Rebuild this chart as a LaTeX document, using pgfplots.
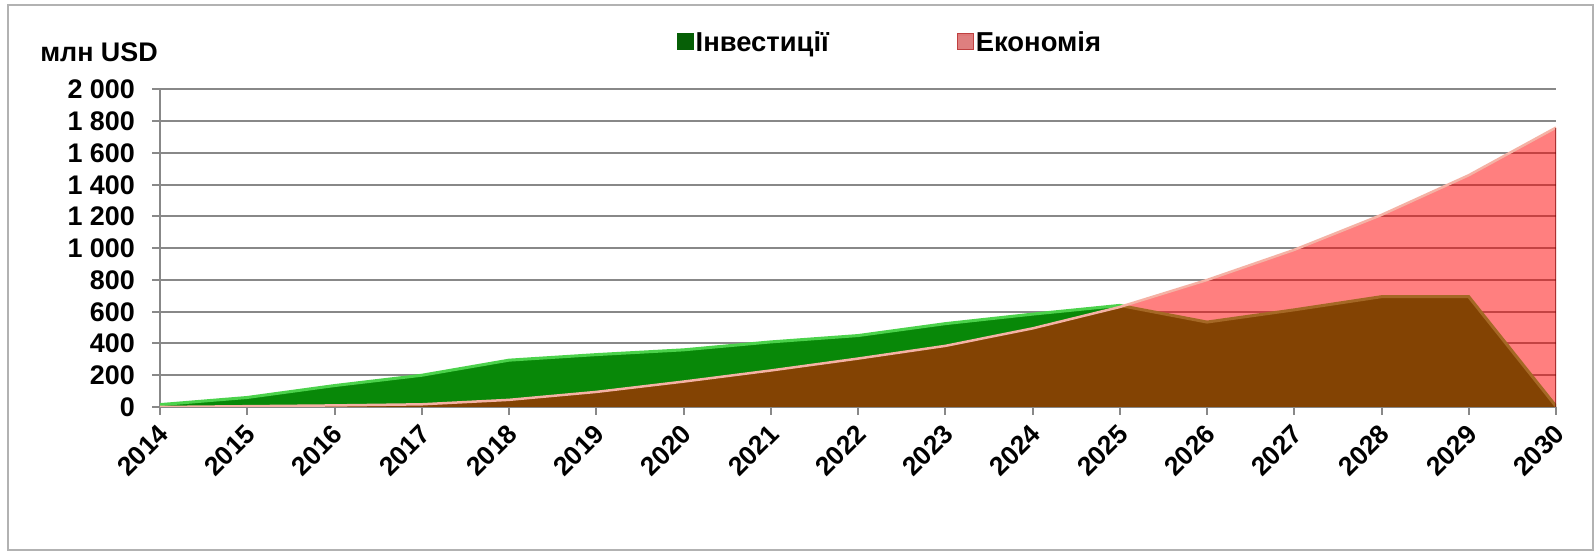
\documentclass[border=0pt]{standalone}
\usepackage{fontspec}
\setmainfont{Liberation Sans}
\usepackage{pgfplots}
\usepackage{pgfplotstable}
\pgfplotsset{compat=1.18}
\definecolor{invgreen}{RGB}{8,136,8}
\definecolor{invlight}{RGB}{75,210,75}
\definecolor{ecored}{RGB}{255,0,0}
\definecolor{ecoline}{RGB}{245,178,165}
\definecolor{gridgray}{RGB}{136,136,136}
\definecolor{framegray}{RGB}{178,178,178}

\pgfplotstableread{
year inv eco
2014 15 0
2015 60 5
2016 135 10
2017 200 17
2018 295 45
2019 330 95
2020 360 160
2021 410 230
2022 450 305
2023 525 385
2024 585 495
2025 640 630
2026 535 800
2027 612 990
2028 695 1210
2029 695 1460
2030 5 1760
}\datatable

\begin{document}
\begin{tikzpicture}
\useasboundingbox (0,0) rectangle (1595bp,556bp);
\fill[white] (0,0) rectangle (1595bp,556bp);
\draw[framegray, line width=2bp] (8bp,6bp) rectangle (1593bp,551bp);
\begin{axis}[
  at={(160bp,149bp)}, anchor=south west,
  scale only axis, width=1396bp, height=317.5bp,
  xmin=2014, xmax=2030, ymin=0, ymax=2000,
  axis lines*=left,
  axis line style={gridgray, line width=2.5bp},
  xtick={2014,2015,2016,2017,2018,2019,2020,2021,2022,2023,2024,2025,2026,2027,2028,2029,2030},
  xticklabels={2014,2015,2016,2017,2018,2019,2020,2021,2022,2023,2024,2025,2026,2027,2028,2029,2030},
  ytick={0,200,400,600,800,1000,1200,1400,1600,1800,2000},
  yticklabels={0,200,400,600,800,1 000,1 200,1 400,1 600,1 800,2 000},
  tick align=outside,
  major tick length=8bp,
  tick style={gridgray, line width=2bp},
  ymajorgrids,
  grid style={gridgray, line width=2bp},
  yticklabel style={font=\fontsize{27}{31}\selectfont\bfseries},
  xticklabel shift=13bp,
  xticklabel style={font=\fontsize{26.5}{30}\selectfont\bfseries, xshift=5bp, rotate=45, anchor=east, inner sep=2bp},
  yticklabel style={anchor=east, inner sep=0pt, xshift=-17bp},
  legend style={at={(0.370,1.15)}, anchor=west, draw=none, fill=none,
    legend columns=2, font=\fontsize{27.5}{31}\selectfont\bfseries,
    /tikz/every even column/.append style={column sep=126bp},
    inner sep=0pt},
  legend cell align=left,
]
\addplot[fill=invgreen, draw=none, area legend,
  legend image code/.code={\fill[invgreen] (0bp,-8bp) rectangle (16bp,8bp);
    \draw[invlight, line width=1.5bp] (1bp,7bp) -- (15bp,7bp);
    \draw[invgreen!70!black, line width=1bp] (0bp,-8bp) rectangle (16bp,8bp);}]
  table[x=year, y=inv] {\datatable} \closedcycle;
\addlegendentry{Інвестиції}
\addplot[invlight, line width=3bp, forget plot] table[x=year, y=inv] {\datatable};
\addplot[fill=ecored, fill opacity=0.5, draw=none, area legend,
  legend image code/.code={\fill[ecored!50] (0bp,-8bp) rectangle (16bp,8bp);
    \draw[ecored!30, line width=1.5bp] (1bp,7bp) -- (15bp,7bp);
    \draw[ecored!50!gray, line width=1bp] (0bp,-8bp) rectangle (16bp,8bp);}]
  table[x=year, y=eco] {\datatable} \closedcycle;
\addlegendentry{Економія}
\addplot[ecoline, line width=2.5bp, forget plot] table[x=year, y=eco] {\datatable};
\addplot[ecored!45!black, line width=2bp, opacity=0.6, forget plot] coordinates {(2030,0) (2030,1760)};
\end{axis}
\node[anchor=east, font=\fontsize{27}{31}\selectfont\bfseries, inner sep=0pt] at (158bp,504bp) {млн USD};
\end{tikzpicture}
\end{document}
